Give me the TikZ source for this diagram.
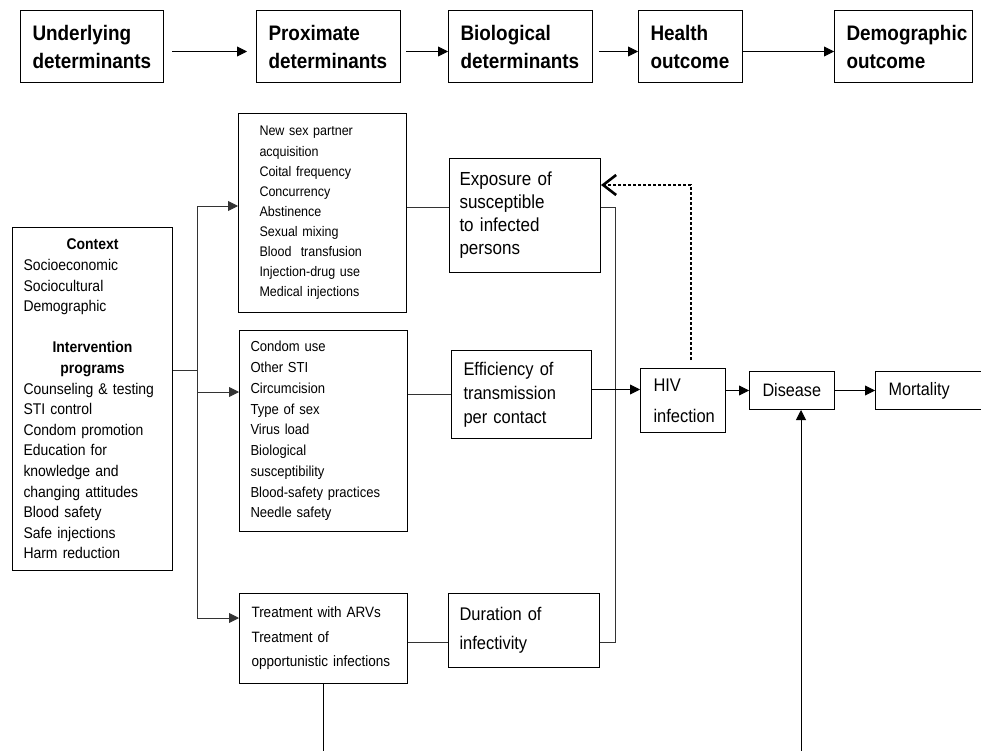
\documentclass[tikz,border=0pt]{standalone}
\usepackage{fontspec}
\setmainfont[FakeStretch=0.9, WordSpace=0.9]{Liberation Sans}
\usetikzlibrary{arrows.meta, calc, positioning}
\newcommand{\drawe}{\draw[line width=0.9pt, black!80]}
\tikzset{
  box/.style={draw, line width=1pt, anchor=north west, align=left, inner ysep=0pt},
  hdr/.style={box, inner xsep=12pt, minimum height=72pt, font=\bfseries\fontsize{21}{28}\selectfont},
  fbline/.style={line width=2.6pt, dash pattern=on 2.6pt off 2.4pt,
    -{Straight Barb[length=13pt, width=20pt]}}
}

\begin{document}
\begin{tikzpicture}[x=1pt, y=-1pt, >={Triangle[length=10pt, width=10pt]}]
%\draw[color=blue!30] (0,0) grid[step=50] (981,751); %lưới
\useasboundingbox (0,0) rectangle (981,751);

% Hàng tiêu đề
\node[hdr, text width=119pt] (und)  at (20,10)  {Underlying\\determinants};
\node[hdr, text width=120pt] (prox) at (256,10) {Proximate\\determinants};
\node[hdr, text width=120pt] (bio)  at (448,10) {Biological\\determinants};
\node[hdr, text width=80pt]  (hlth) at (638,10) {Health\\outcome};
\node[hdr, text width=114pt] (demo) at (834,10) {Demographic\\outcome};

\drawe[->, black, shorten <=8pt, shorten >=9pt] ($(und.east)+(0,5)$) -- ($(prox.west)+(0,5)$);
\drawe[->, black, shorten <=5pt] ($(prox.east)+(0,5)$) -- ($(bio.west)+(0,5)$);
\drawe[->, black, shorten <=6pt] ($(bio.east)+(0,5)$) -- ($(hlth.west)+(0,5)$);
\drawe[->, black] ($(hlth.east)+(0,5)$) -- ($(demo.west)+(0,5)$);

% Bối cảnh
\node[box, text width=138pt, minimum height=343pt, inner xsep=11pt,
  font=\fontsize{15.5}{20.6}\selectfont] (ctx) at (12,227)
  {\makebox[\hsize]{\bfseries Context}\\ Socioeconomic\\ Sociocultural\\ Demographic\\ ~\\
   \makebox[\hsize]{\bfseries Intervention}\\ \makebox[\hsize]{\bfseries programs}\\
   Counseling \& testing\\ STI control\\ Condom promotion\\ Education for\\
   knowledge and\\ changing attitudes\\ Blood safety\\ Safe injections\\ Harm reduction};

% Yếu tố trực tiếp
\node[box, text width=126pt, minimum height=199pt, inner xsep=21pt,
  font=\fontsize{13.9}{20.1}\selectfont] (sexbox) at (238,113)
  {New sex partner\\ acquisition\\ Coital frequency\\ Concurrency\\ Abstinence\\
   Sexual mixing\\ Blood~ transfusion\\ Injection-drug use\\ Medical injections};
\node[box, text width=146pt, minimum height=201pt, inner xsep=11pt,
  font=\fontsize{14.5}{20.75}\selectfont] (condbox) at (239,330)
  {Condom use\\ Other STI\\ Circumcision\\ Type of sex\\ Virus load\\ Biological\\
   susceptibility\\ Blood-safety practices\\ Needle safety};
\node[box, text width=144pt, minimum height=90pt, inner xsep=12pt,
  font=\fontsize{15}{24.5}\selectfont] (arvbox) at (239,593)
  {Treatment with ARVs\\ Treatment of\\ opportunistic infections};

% Yếu tố sinh học
\node[box, text width=131pt, minimum height=114pt, inner xsep=10pt,
  font=\fontsize{18.9}{23}\selectfont] (expo) at (449,158)
  {Exposure of\\ susceptible\\ to infected\\ persons};
\node[box, text width=116pt, minimum height=88pt, inner xsep=12pt,
  font=\fontsize{18.3}{24}\selectfont] (eff) at (451,350)
  {Efficiency of\\ transmission\\ per contact};
\node[box, text width=129pt, minimum height=74pt, inner xsep=11pt,
  font=\fontsize{18.3}{29}\selectfont] (dur) at (448,593)
  {Duration of\\ infectivity};

% Kết quả
\node[box, text width=59pt, minimum height=64pt, inner xsep=13pt,
  font=\fontsize{18.3}{31}\selectfont] (hiv) at (640,368) {HIV\\ infection};
\node[box, text width=59pt, minimum height=38pt, inner xsep=13pt,
  font=\fontsize{18}{20}\selectfont] (dis) at (749,371) {Disease};
\node[box, text width=100pt, minimum height=38pt, inner xsep=13pt,
  font=\fontsize{18}{20}\selectfont] (mort) at (875,371) {Mortality};

% Đường nối
\coordinate (split) at (197,370);
\coordinate (bus) at (615,207);
\coordinate (r3) at (0,642);
\coordinate (fbk) at (691,185);
\coordinate (lowL) at (323,760);
\coordinate (lowR) at (801,760);
\coordinate (effout) at ($(eff.east)+(0,-5)$);

\drawe (ctx.east |- split) -- (split);
\drawe[->] (split) |- ($(sexbox.north west)+(0,93)$);
\drawe[->] (split) |- ($(condbox.north west)+(0,62)$);
\drawe[->] (split) |- ($(arvbox.north west)+(0,25)$);

\drawe (sexbox.east |- bus) -- (expo.west |- bus);
\drawe (eff.west -| condbox.east) -- (eff.west);
\drawe (arvbox.east |- r3) -- (dur.west |- r3);
\drawe (expo.east |- bus) -- (bus) |- (dur.east |- r3);

\drawe[->, black] (effout) -- (effout -| hiv.west);
\drawe[->, black] (hiv.east |- dis) -- (dis.west);
\drawe[->, black] (dis) -- (mort);
\draw[fbline, shorten <=8pt] (fbk |- hiv.north) -- (fbk) -- (fbk -| expo.east);

\drawe[black] (arvbox.south) -- (arvbox.south |- lowL);
\drawe[->, black] (lowR) -- (lowR |- dis.south);

\end{tikzpicture}
\end{document}
